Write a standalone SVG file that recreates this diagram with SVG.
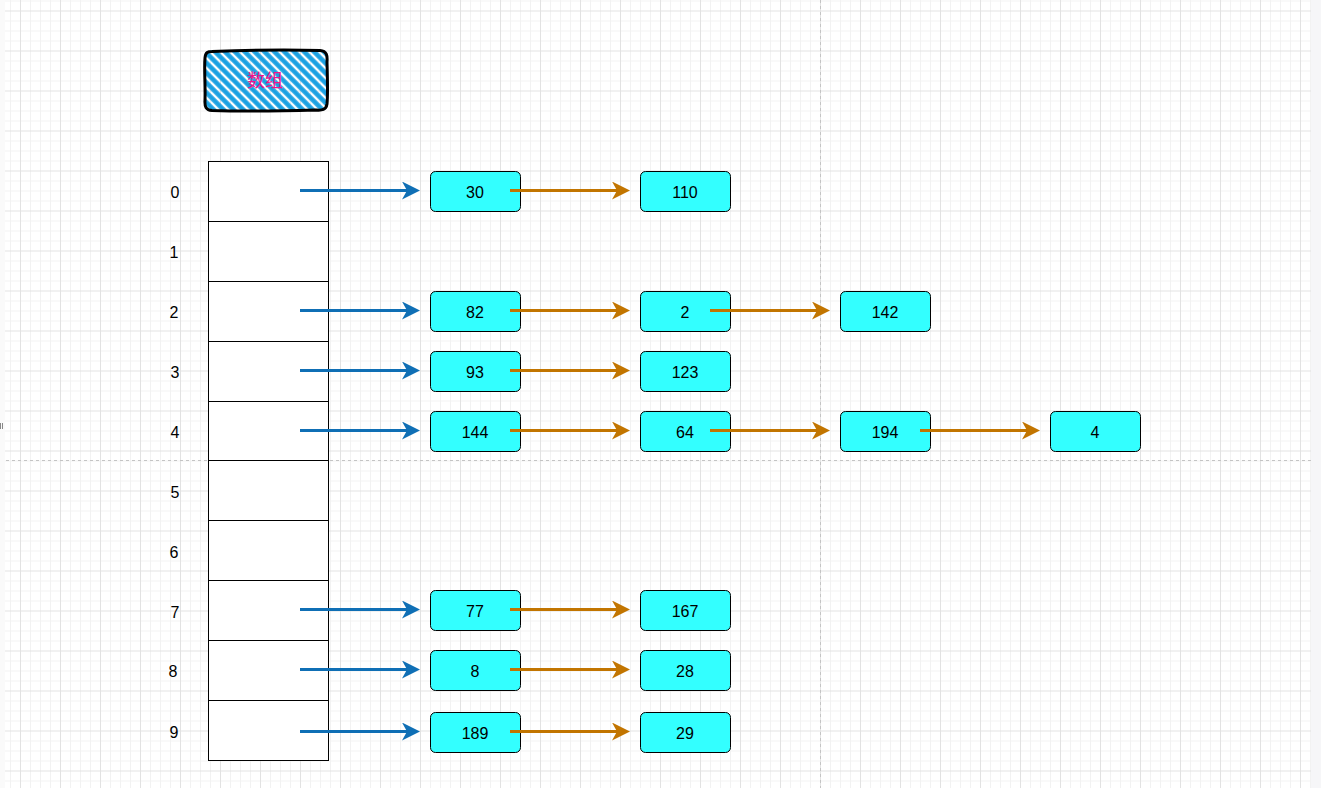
<svg xmlns="http://www.w3.org/2000/svg" width="1321" height="788" viewBox="0 0 1321 788">
<style>
.cell{fill:#ffffff;stroke:#000000;stroke-width:1}
.node rect{fill:#33FFFF;stroke:#000000;stroke-width:1}
.t{font-family:"Liberation Sans",Arial,sans-serif;font-size:16px;fill:#000000;text-anchor:middle;dominant-baseline:central}
.blue{stroke:#0F6FB5;stroke-width:3;fill:none;marker-end:url(#ab)}
.orange{stroke:#C27500;stroke-width:3;fill:none;marker-end:url(#ao)}
.dash{stroke:#c4c4c4;stroke-width:1;stroke-dasharray:3 3;fill:none}
</style>
<defs>
<pattern id="grid" patternUnits="userSpaceOnUse" x="20" y="10.5" width="40" height="40">
<path d="M10.5 0V40M20.5 0V40M30.5 0V40M0 10.5H40M0 20.5H40M0 30.5H40" stroke="#f2f2f2" stroke-width="1" fill="none"/>
<path d="M0.5 0V40M0 0.5H40" stroke="#e2e2e2" stroke-width="1" fill="none"/>
</pattern>
<pattern id="hach" patternUnits="userSpaceOnUse" width="10" height="7" patternTransform="rotate(45)">
<line x1="0" y1="3.5" x2="10" y2="3.5" stroke="#1BA1E2" stroke-width="4.6"/>
</pattern>
<clipPath id="tclip"><rect x="204" y="50" width="124" height="61" rx="8"/></clipPath>
<marker id="ab" markerUnits="userSpaceOnUse" markerWidth="20" markerHeight="20" refX="10" refY="9" orient="auto">
<path d="M0 0L18 9L0 18L5 9Z" fill="#0F6FB5"/>
</marker>
<marker id="ao" markerUnits="userSpaceOnUse" markerWidth="20" markerHeight="20" refX="10" refY="9" orient="auto">
<path d="M0 0L18 9L0 18L5 9Z" fill="#C27500"/>
</marker>
</defs>
<rect x="0" y="0" width="1321" height="788" fill="#ffffff"/>
<rect x="5" y="0" width="1306" height="788" fill="url(#grid)"/>
<rect x="0" y="0" width="5" height="788" fill="#fafafa"/>
<rect x="1311" y="0" width="10" height="788" fill="#f6f6f8"/>
<line class="dash" x1="820.5" y1="0" x2="820.5" y2="788"/>
<line class="dash" x1="6" y1="460.5" x2="1311" y2="460.5"/>
<rect x="0" y="423" width="1" height="6" fill="#888888"/>
<rect x="2" y="423" width="1" height="6" fill="#888888"/>

<g id="title">
<rect x="204" y="50" width="124" height="61" fill="url(#hach)" clip-path="url(#tclip)"/>
<path d="M212 51.5C250 50 290 49.5 320 50.5C327 51 327.5 56 327 62C327.5 80 328 95 327 104C326 110 322 110.5 316 110C280 111 245 111.5 212 110.5C206 110 204.5 107 205 100C205.5 85 204 68 205 58C205.5 52 208 51.5 212 51.5Z" fill="none" stroke="#000000" stroke-width="3" stroke-linejoin="round"/>
<text x="265" y="81" style="font-family:'Liberation Sans','Noto Sans CJK SC',sans-serif;font-size:18px;fill:#F0148C;text-anchor:middle;dominant-baseline:central">数组</text>
</g>

<g id="array">
<rect class="cell" x="208.5" y="161.5" width="120" height="60"/>
<rect class="cell" x="208.5" y="221.5" width="120" height="60"/>
<rect class="cell" x="208.5" y="281.5" width="120" height="60"/>
<rect class="cell" x="208.5" y="341.5" width="120" height="60"/>
<rect class="cell" x="208.5" y="401.5" width="120" height="59"/>
<rect class="cell" x="208.5" y="460.5" width="120" height="60"/>
<rect class="cell" x="208.5" y="520.5" width="120" height="60"/>
<rect class="cell" x="208.5" y="580.5" width="120" height="60"/>
<rect class="cell" x="208.5" y="640.5" width="120" height="60"/>
<rect class="cell" x="208.5" y="700.5" width="120" height="60"/>
</g>
<g id="indices">
<text class="t" x="175" y="192">0</text>
<text class="t" x="174" y="252">1</text>
<text class="t" x="174" y="312">2</text>
<text class="t" x="175" y="372">3</text>
<text class="t" x="175" y="432">4</text>
<text class="t" x="175" y="492">5</text>
<text class="t" x="174" y="552">6</text>
<text class="t" x="175" y="612">7</text>
<text class="t" x="173" y="671">8</text>
<text class="t" x="174" y="732">9</text>
</g>

<g id="n30" class="node"><rect x="430.5" y="171.5" width="90" height="40" rx="5"/><text class="t" x="475" y="192">30</text></g>
<g id="n110" class="node"><rect x="640.5" y="171.5" width="90" height="40" rx="5"/><text class="t" x="685" y="192">110</text></g>
<g id="n82" class="node"><rect x="430.5" y="291.5" width="90" height="40" rx="5"/><text class="t" x="475" y="312">82</text></g>
<g id="n2" class="node"><rect x="640.5" y="291.5" width="90" height="40" rx="5"/><text class="t" x="685" y="312">2</text></g>
<g id="n142" class="node"><rect x="840.5" y="291.5" width="90" height="40" rx="5"/><text class="t" x="885" y="312">142</text></g>
<g id="n93" class="node"><rect x="430.5" y="351.5" width="90" height="40" rx="5"/><text class="t" x="475" y="372">93</text></g>
<g id="n123" class="node"><rect x="640.5" y="351.5" width="90" height="40" rx="5"/><text class="t" x="685" y="372">123</text></g>
<g id="n144" class="node"><rect x="430.5" y="411.5" width="90" height="40" rx="5"/><text class="t" x="475" y="432">144</text></g>
<g id="n64" class="node"><rect x="640.5" y="411.5" width="90" height="40" rx="5"/><text class="t" x="685" y="432">64</text></g>
<g id="n194" class="node"><rect x="840.5" y="411.5" width="90" height="40" rx="5"/><text class="t" x="885" y="432">194</text></g>
<g id="n4" class="node"><rect x="1050.5" y="411.5" width="90" height="40" rx="5"/><text class="t" x="1095" y="432">4</text></g>
<g id="n77" class="node"><rect x="430.5" y="590.5" width="90" height="40" rx="5"/><text class="t" x="475" y="611">77</text></g>
<g id="n167" class="node"><rect x="640.5" y="590.5" width="90" height="40" rx="5"/><text class="t" x="685" y="611">167</text></g>
<g id="n8" class="node"><rect x="430.5" y="650.5" width="90" height="40" rx="5"/><text class="t" x="475" y="671">8</text></g>
<g id="n28" class="node"><rect x="640.5" y="650.5" width="90" height="40" rx="5"/><text class="t" x="685" y="671">28</text></g>
<g id="n189" class="node"><rect x="430.5" y="712.5" width="90" height="40" rx="5"/><text class="t" x="475" y="733">189</text></g>
<g id="n29" class="node"><rect x="640.5" y="712.5" width="90" height="40" rx="5"/><text class="t" x="685" y="733">29</text></g>

<g id="connectors">
<line class="blue" x1="300" y1="190.5" x2="412" y2="190.5"/>
<line class="blue" x1="300" y1="310.5" x2="412" y2="310.5"/>
<line class="blue" x1="300" y1="370.5" x2="412" y2="370.5"/>
<line class="blue" x1="300" y1="430.5" x2="412" y2="430.5"/>
<line class="blue" x1="300" y1="609.5" x2="412" y2="609.5"/>
<line class="blue" x1="300" y1="669.5" x2="412" y2="669.5"/>
<line class="blue" x1="300" y1="731.5" x2="412" y2="731.5"/>
<line class="orange" x1="510" y1="190.5" x2="622" y2="190.5"/>
<line class="orange" x1="510" y1="310.5" x2="622" y2="310.5"/>
<line class="orange" x1="710" y1="310.5" x2="822" y2="310.5"/>
<line class="orange" x1="510" y1="370.5" x2="622" y2="370.5"/>
<line class="orange" x1="510" y1="430.5" x2="622" y2="430.5"/>
<line class="orange" x1="710" y1="430.5" x2="822" y2="430.5"/>
<line class="orange" x1="920" y1="430.5" x2="1032" y2="430.5"/>
<line class="orange" x1="510" y1="609.5" x2="622" y2="609.5"/>
<line class="orange" x1="510" y1="669.5" x2="622" y2="669.5"/>
<line class="orange" x1="510" y1="731.5" x2="622" y2="731.5"/>
</g>
</svg>
